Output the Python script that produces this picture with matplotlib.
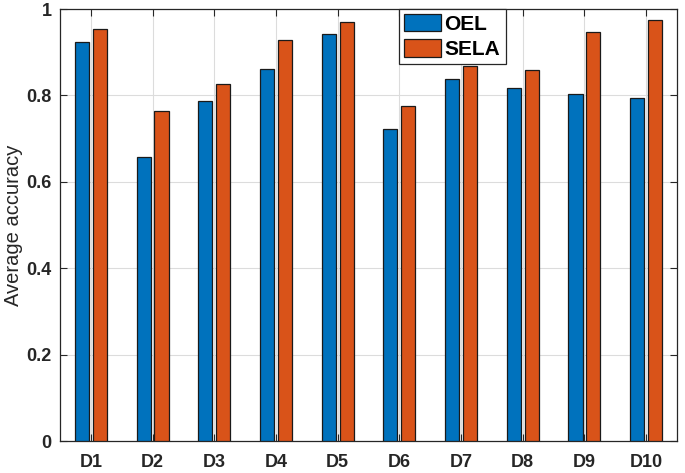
import matplotlib
matplotlib.use("Agg")
import matplotlib.pyplot as plt
import numpy as np

categories = ["D1", "D2", "D3", "D4", "D5", "D6", "D7", "D8", "D9", "D10"]
oel = [0.924, 0.657, 0.787, 0.861, 0.942, 0.722, 0.837, 0.816, 0.804, 0.793]
sela = [0.953, 0.765, 0.826, 0.928, 0.970, 0.776, 0.867, 0.859, 0.947, 0.974]
yticks = [0, 0.2, 0.4, 0.6, 0.8, 1]
ytick_labels = ["0", "0.2", "0.4", "0.6", "0.8", "1"]

plt.rcParams['font.family'] = ['Liberation Sans', 'DejaVu Sans']

fig = plt.figure(figsize=(6.85, 4.73), dpi=100)
ax = fig.add_axes([60/685, 1 - 441/473, 617/685, 432/473])

x = np.arange(1, len(categories) + 1)
w = 0.23
off = 0.145
ax.bar(x - off, oel, w, color='#0072BD', edgecolor='#1a1a1a', linewidth=0.9, label='OEL', zorder=3)
ax.bar(x + off, sela, w, color='#D95319', edgecolor='#1a1a1a', linewidth=0.9, label='SELA', zorder=3)

ax.set_xlim(0.5, 10.5)
ax.set_ylim(0, 1)
ax.set_xticks(x)
ax.set_xticklabels(categories, fontsize=13, fontweight='bold', color='#262626')
ax.set_yticks(yticks)
ax.set_yticklabels(ytick_labels, fontsize=13, fontweight='bold', color='#262626')
ax.tick_params(axis='both', direction='in', length=5, width=0.8, color='#262626',
               top=True, right=True)
ax.tick_params(axis='x', pad=9)
ax.tick_params(axis='y', pad=6)
ax.grid(True, color='#dcdcdc', linewidth=0.8, zorder=0)
ax.set_axisbelow(True)
for s in ax.spines.values():
    s.set_color('#262626')
    s.set_linewidth(0.9)

ax.set_ylabel('Average accuracy', fontsize=14.5, color='#262626')
ax.yaxis.set_label_coords(-0.06, 0.5)

leg = ax.legend(loc='upper left', bbox_to_anchor=(0.549, 1.0), borderaxespad=0.0,
                fancybox=False, framealpha=1, edgecolor='#262626',
                prop={'size': 15, 'weight': 'bold'}, handlelength=1.8, handleheight=0.9,
                handletextpad=0.15, borderpad=0.25, labelspacing=0.25)
leg.get_frame().set_linewidth(0.9)

fig.savefig('out.png', dpi=100)
